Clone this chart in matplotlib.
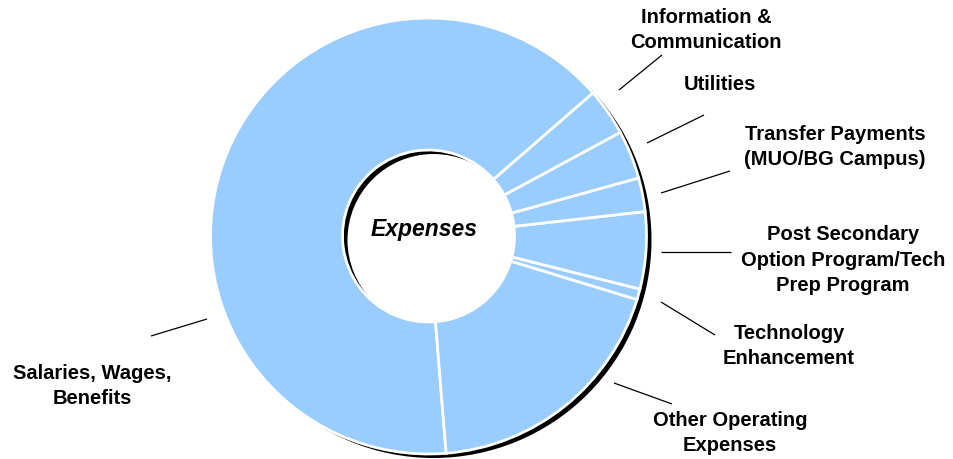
import matplotlib
matplotlib.use("Agg")
import matplotlib.pyplot as plt
from matplotlib.patches import Wedge

# ---- data (share of expenses) ----
categories = [
    "Salaries, Wages,\nBenefits",
    "Other Operating\nExpenses",
    "Technology\nEnhancement",
    "Post Secondary\nOption Program/Tech\nPrep Program",
    "Transfer Payments\n(MUO/BG Campus)",
    "Utilities",
    "Information &\nCommunication",
]
shares = [64.9, 19.0, 0.8, 5.7, 2.5, 3.6, 3.5]

# ---- layout (pixel coords, origin top-left) ----
W, H = 954, 460
CX, CY = 428.5, 237.0
R_OUT, R_IN = 218, 86
label_pos = [(92, 386), (730, 433), (789, 346), (843, 260),
             (835, 147), (720, 84), (706, 30)]
leaders = [((207, 320), (151, 337)), ((614, 384), (672, 405)),
           ((661, 303), (715, 336)), ((661, 253), (731, 253)),
           ((661, 194), (730, 172)), ((647, 144), (704, 116)),
           ((619, 91), (662, 56))]

plt.rcParams["font.family"] = ["Liberation Sans", "DejaVu Sans"]

fig = plt.figure(figsize=(W / 100, H / 100), dpi=100)
ax = fig.add_axes([0, 0, 1, 1])

# drop shadow under the ring
ax.add_patch(Wedge((CX + 5, H - CY - 4), R_OUT, 0, 360, width=R_OUT - R_IN,
                   facecolor="black", edgecolor="none", zorder=0))

ax.pie(shares, startangle=41.0, counterclock=True, radius=R_OUT,
       center=(CX, H - CY), colors=["#99ccff"] * len(shares),
       wedgeprops=dict(width=R_OUT - R_IN, edgecolor="white", linewidth=2))

for (p0, p1) in leaders:
    ax.plot([p0[0], p1[0]], [H - p0[1], H - p1[1]], color="black", lw=0.9,
            solid_capstyle="butt")

for lab, (x, y) in zip(categories, label_pos):
    ax.text(x, H - y, lab, ha="center", va="center", multialignment="center",
            fontsize=14.5, fontweight="bold", linespacing=1.42)

ax.text(424.5, H - 230, "Expenses", ha="center", va="center",
        fontsize=16.5, fontweight="bold", fontstyle="italic")

ax.set_xlim(0, W)
ax.set_ylim(0, H)
ax.set_aspect("equal")
ax.axis("off")

fig.savefig("out.png", dpi=100)
